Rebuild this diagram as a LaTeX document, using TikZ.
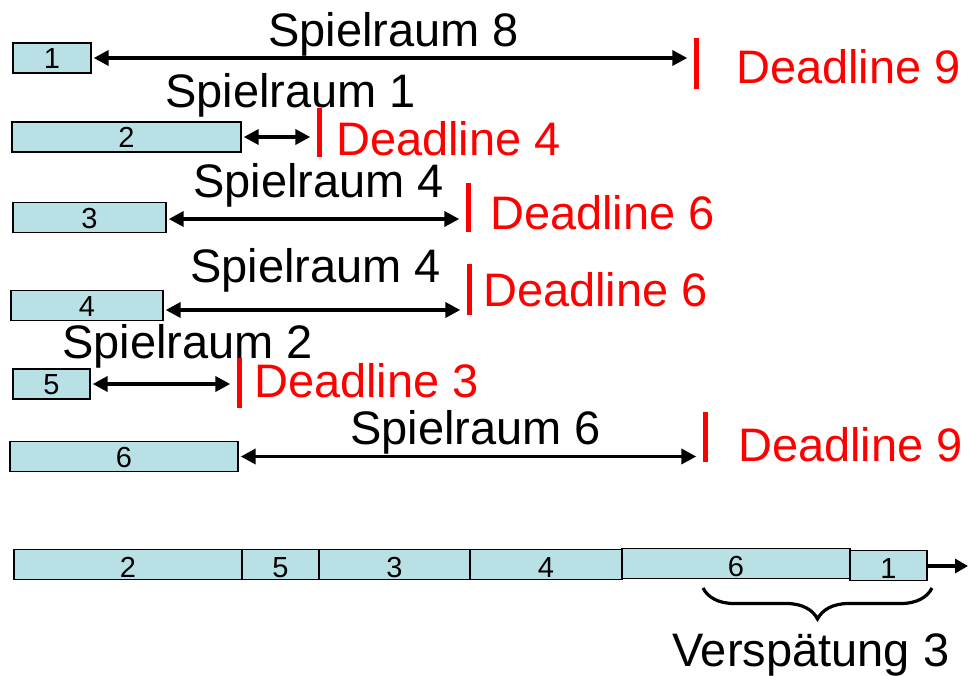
\documentclass[tikz,border=0pt]{standalone}
\usepackage{fontspec}
\setmainfont{Liberation Sans}
\usetikzlibrary{arrows.meta,decorations.pathreplacing}
\definecolor{taskfill}{RGB}{185,224,228}
\definecolor{deadred}{RGB}{255,0,0}

\begin{document}
\begin{tikzpicture}[x=1pt,y=-1pt,
  task/.style={draw=black, line width=1.4pt, fill=taskfill, inner sep=0pt,
    minimum height=30, font=\fontsize{29}{29}\selectfont,
    text height=21pt, text depth=0pt},
  lowtask/.style={task, text height=26pt},
  deadbar/.style={fill=deadred, draw=none, inner sep=0pt, minimum width=5},
  bigtext/.style={inner sep=0pt, anchor=base west,
    font=\fontsize{47}{50}\selectfont},
  slack/.style={bigtext, text=black},
  deadtext/.style={bigtext, text=deadred},
  span/.style={line width=3.6pt,
    {Triangle[length=15pt,width=15pt]}-{Triangle[length=15pt,width=15pt]},
    shorten <=2pt, shorten >=6pt},
  flow/.style={line width=3.6pt, -{Triangle[length=13pt,width=14pt]}},
  bracestyle/.style={line width=3.2pt, decorate,
    decoration={brace, mirror, amplitude=31pt, aspect=0.5}}
]
\fill[white] (0,0) rectangle (968,675);
\useasboundingbox (0,0) rectangle (968,675);

% individual tasks with their slack up to the deadline
\node[task, minimum width=78]  (b1) at (52,58)    {1};
\node[task, minimum width=229] (b2) at (126.5,137) {2};
\node[task, minimum width=153] (b3) at (89.5,217.5) {3};
\node[task, minimum width=152] (b4) at (87,305.5) {4};
\node[task, minimum width=77]  (b5) at (51.5,384) {5};
\node[task, minimum width=228] (b6) at (124,456.5) {6};

\node[deadbar, minimum height=51] (d1) at (696,63.5)  {};
\node[deadbar, minimum height=49] (d2) at (319,132.5) {};
\node[deadbar, minimum height=49] (d3) at (468,207.5) {};
\node[deadbar, minimum height=51] (d4) at (469,289.5) {};
\node[deadbar, minimum height=50] (d5) at (239,383)   {};
\node[deadbar, minimum height=50] (d6) at (705,437)   {};

\draw[span] (b1.east) -- (b1.east -| d1.west);
\draw[span] (b2.east) -- (b2.east -| d2.west);
\draw[span] ([yshift=-1.5]b3.east) -- ([yshift=-1.5]b3.east -| d3.west);
\draw[span] ([yshift=-4.5]b4.east) -- ([yshift=-4.5]b4.east -| d4.west);
\draw[span] (b5.east) -- (b5.east -| d5.west);
\draw[span] (b6.east) -- (b6.east -| d6.west);

\node[slack] (s1) at (268,46)  {Spielraum 8};
\node[slack] (s2) at (165,107) {Spielraum 1};
\node[slack] (s3) at (193,197) {Spielraum 4};
\node[slack] (s4) at (190,282) {Spielraum 4};
\node[slack] (s5) at (62,358)  {Spielraum 2};
\node[slack] (s6) at (350,444) {Spielraum 6};

\node[deadtext] (t1) at (736,83)  {Deadline 9};
\node[deadtext] (t2) at (336,155) {Deadline 4};
\node[deadtext] (t3) at (490,229) {Deadline 6};
\node[deadtext] (t4) at (483,306) {Deadline 6};
\node[deadtext] (t5) at (254,397) {Deadline 3};
\node[deadtext] (t6) at (738,461) {Deadline 9};

% resulting schedule
\node[lowtask, minimum width=228] (q2) at (128,564.5) {2};
\node[lowtask, minimum width=77]  (q5) at (280.5,564.5) {5};
\node[lowtask, minimum width=151] (q3) at (394.5,564.5) {3};
\node[lowtask, minimum width=152] (q4) at (546,564.5) {4};
\node[lowtask, minimum width=228] (q6) at (736,563.5) {6};
\node[lowtask, minimum width=77]  (q1) at (888.5,565.5) {1};

\coordinate (tend) at (968,566);
\draw[flow] (q1.east |- tend) -- (tend);

\coordinate (bl) at (703,588);
\coordinate (br) at (932,588);
\draw[bracestyle] (bl) -- (br);
\node[slack] (late) at (672,666) {Verspätung 3};
\end{tikzpicture}
\end{document}
